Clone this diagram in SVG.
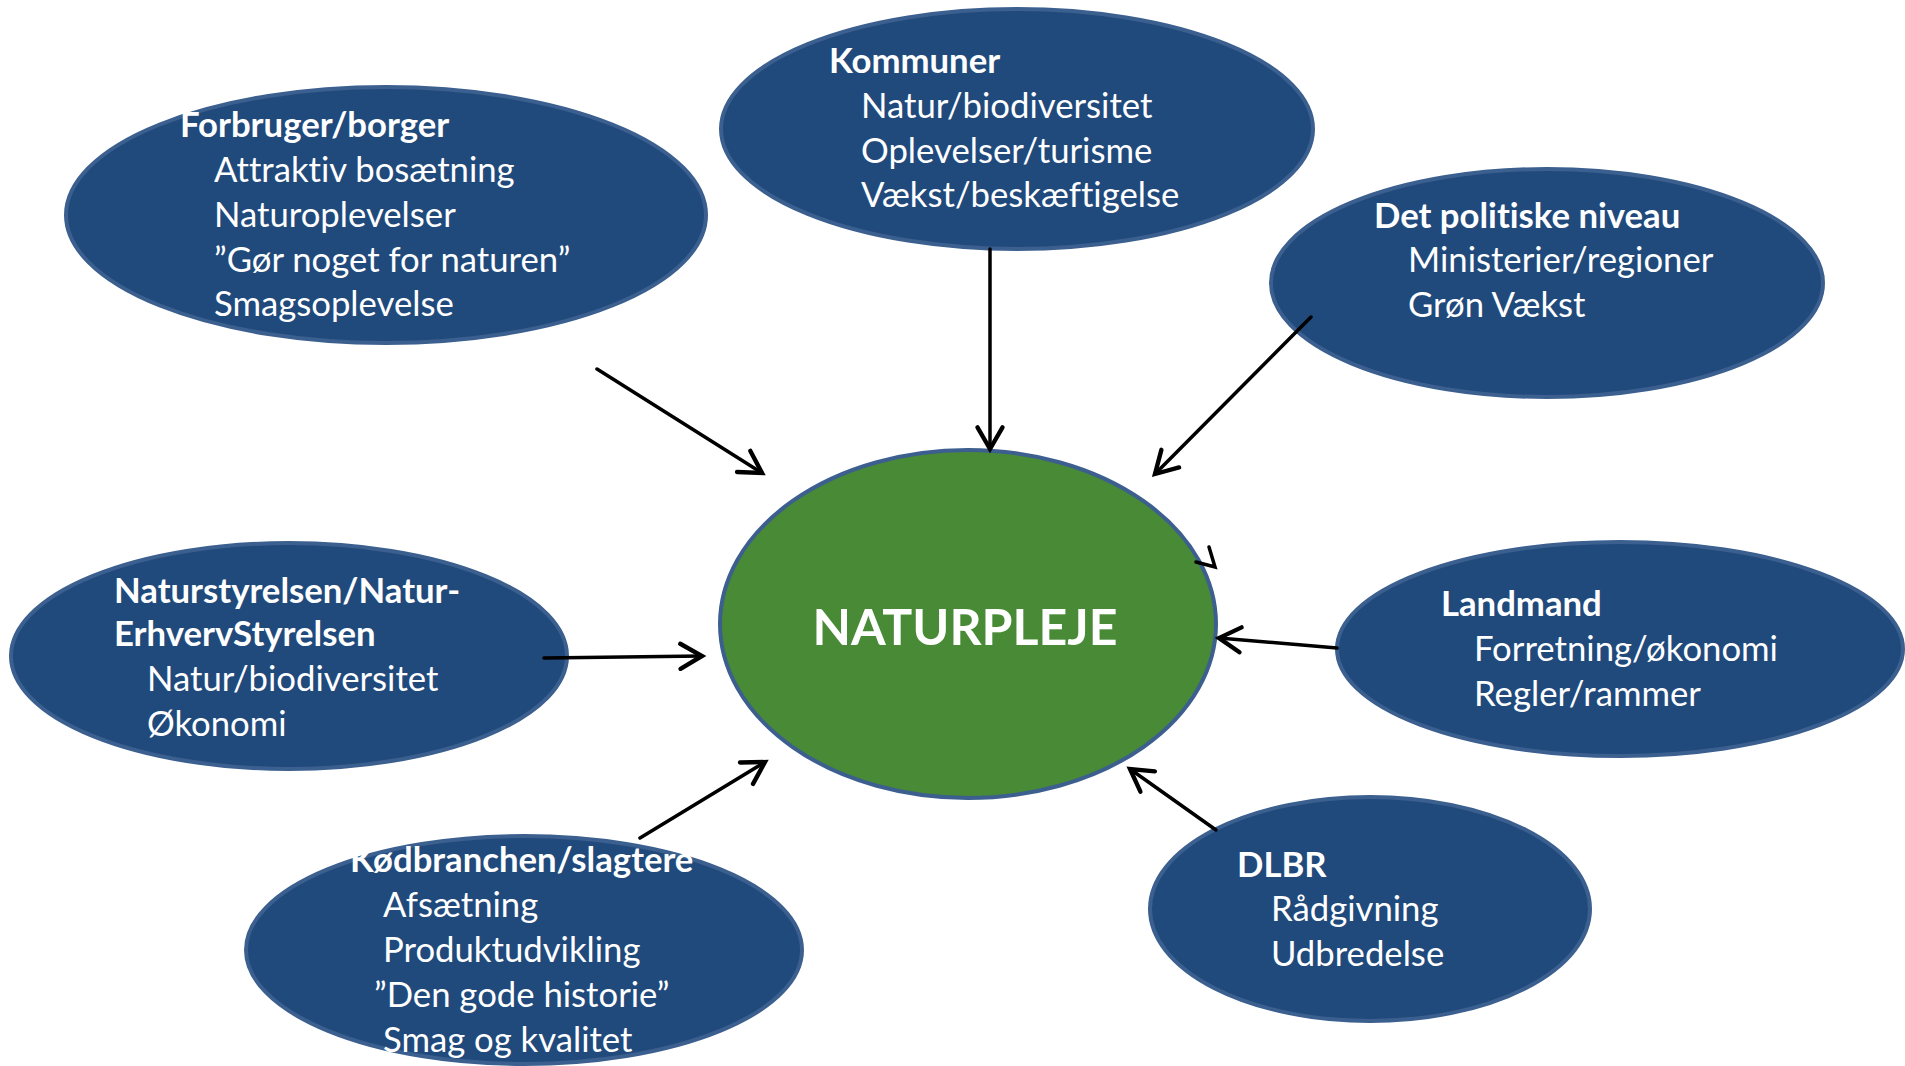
<svg xmlns="http://www.w3.org/2000/svg" width="1905" height="1066" viewBox="0 0 1905 1066">
  <style>
    .node { fill: #214a7c; stroke: #3b5f8e; stroke-width: 4; }
    .center { fill: #488a36; stroke: #3c5f8f; stroke-width: 4; }
    .t { font-family: Lato, "Liberation Sans", sans-serif; font-size: 34.7px; fill: #ffffff; font-variant-ligatures: none; }
    .b { font-weight: bold; }
    .big { font-family: Lato, "Liberation Sans", sans-serif; font-size: 50px; font-weight: bold; fill: #ffffff; }
    .conn { stroke: #000000; stroke-width: 3.5; fill: none; stroke-linecap: round; }
  </style>
  <defs>
    <marker id="arrow" markerUnits="userSpaceOnUse" markerWidth="30" markerHeight="30" viewBox="0 0 24 24" refX="22" refY="12" orient="auto" overflow="visible">
      <path d="M4.7,2 L22,12 L4.7,22" fill="none" stroke="#000000" stroke-width="3.5" stroke-linecap="round" stroke-linejoin="miter"/>
    </marker>
  </defs>
  <rect width="1905" height="1066" fill="#ffffff"/>

  <g id="forbruger">
    <ellipse class="node" cx="386" cy="215" rx="320" ry="128"/>
    <text class="t b" x="180" y="137">Forbruger/borger</text>
    <text class="t" x="214" y="182">Attraktiv bosætning</text>
    <text class="t" x="214" y="227">Naturoplevelser</text>
    <text class="t" x="214" y="272">”Gør noget for naturen”</text>
    <text class="t" x="214" y="316">Smagsoplevelse</text>
  </g>

  <g id="kommuner">
    <ellipse class="node" cx="1017" cy="129" rx="296" ry="120"/>
    <text class="t b" x="829" y="73">Kommuner</text>
    <text class="t" x="861" y="118">Natur/biodiversitet</text>
    <text class="t" x="861" y="163">Oplevelser/turisme</text>
    <text class="t" x="861" y="207">Vækst/beskæftigelse</text>
  </g>

  <g id="politiske">
    <ellipse class="node" cx="1547" cy="283" rx="276" ry="114"/>
    <text class="t b" x="1374" y="228">Det politiske niveau</text>
    <text class="t" x="1408" y="272">Ministerier/regioner</text>
    <text class="t" x="1408" y="317">Grøn Vækst</text>
  </g>

  <g id="naturstyrelsen">
    <ellipse class="node" cx="289" cy="656" rx="278" ry="113"/>
    <text class="t b" x="114" y="603">Naturstyrelsen/Natur-</text>
    <text class="t b" x="114" y="646">ErhvervStyrelsen</text>
    <text class="t" x="147" y="691">Natur/biodiversitet</text>
    <text class="t" x="147" y="736">Økonomi</text>
  </g>

  <g id="landmand">
    <ellipse class="node" cx="1620" cy="649" rx="283" ry="107"/>
    <text class="t b" x="1441" y="616">Landmand</text>
    <text class="t" x="1474" y="661">Forretning/økonomi</text>
    <text class="t" x="1474" y="706">Regler/rammer</text>
  </g>

  <g id="koedbranchen">
    <ellipse class="node" cx="524" cy="950" rx="278" ry="114"/>
    <text class="t b" x="350" y="872">Kødbranchen/slagtere</text>
    <text class="t" x="383" y="917">Afsætning</text>
    <text class="t" x="383" y="962">Produktudvikling</text>
    <text class="t" x="374" y="1007">”Den gode historie”</text>
    <text class="t" x="383" y="1052">Smag og kvalitet</text>
  </g>

  <g id="dlbr">
    <ellipse class="node" cx="1370" cy="909" rx="220" ry="112"/>
    <text class="t b" x="1237" y="877">DLBR</text>
    <text class="t" x="1271" y="921">Rådgivning</text>
    <text class="t" x="1271" y="966">Udbredelse</text>
  </g>

  <g id="naturpleje">
    <ellipse class="center" cx="968" cy="624" rx="248" ry="174"/>
    <text class="big" x="965" y="645" text-anchor="middle">NATURPLEJE</text>
  </g>

  <g id="connectors">
    <line class="conn" x1="597" y1="369" x2="762" y2="473" marker-end="url(#arrow)"/>
    <line class="conn" x1="990" y1="249" x2="990" y2="449" marker-end="url(#arrow)"/>
    <line class="conn" x1="1311" y1="317" x2="1155" y2="474" marker-end="url(#arrow)"/>
    <path class="conn" d="M1209,547 L1215,567 L1196,562"/>
    <line class="conn" x1="1337" y1="648" x2="1219" y2="638" marker-end="url(#arrow)"/>
    <line class="conn" x1="544" y1="658" x2="702" y2="656" marker-end="url(#arrow)"/>
    <line class="conn" x1="640" y1="838" x2="765" y2="762" marker-end="url(#arrow)"/>
    <line class="conn" x1="1216" y1="830" x2="1130" y2="769" marker-end="url(#arrow)"/>
  </g>
</svg>
